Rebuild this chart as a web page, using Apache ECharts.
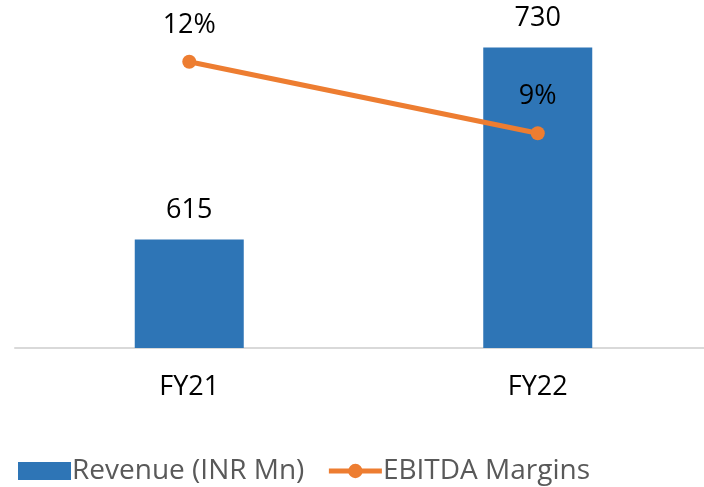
<!DOCTYPE html>
<html>
<head>
<meta charset="utf-8">
<script src="https://cdn.jsdelivr.net/npm/echarts@6/dist/echarts.min.js"></script>
<style>
  html, body { margin: 0; padding: 0; background: #fff; }
  #main { width: 704px; height: 487px; }
</style>
</head>
<body>
<div id="main"></div>
<script>
// chart data
var years = ['FY21', 'FY22']
    , revenue = [615, 730]
    , ebitdaMargin = [12, 9];

var font = '"Open Sans", "Liberation Sans", sans-serif';

var myChart = echarts.init(document.getElementById('main'));
var option = {
    animation: false,
    textStyle: { fontFamily: font },
    grid: { left: 15, right: -8, top: 14, bottom: 139, outerBoundsMode: 'none' },
    legend: {
        left: 13,
        top: 452,
        itemWidth: 53,
        itemHeight: 18,
        itemGap: 22,
        lineStyle: { width: 5 },
        textStyle: { fontSize: 28, color: '#595959', fontFamily: font, padding: [0, 0, 0, -4] },
        data: [
            { name: 'Revenue (INR Mn)', icon: 'rect' },
            { name: 'EBITDA Margins' }
        ]
    },
    xAxis: {
        type: 'category',
        data: years,
        axisLine: { lineStyle: { color: '#d9d9d9', width: 2 } },
        axisTick: { show: false },
        axisLabel: { fontSize: 27, color: '#000', margin: 26, fontFamily: font }
    },
    yAxis: [
        { type: 'value', min: 550, max: 750, show: false, splitLine: { show: false } },
        { type: 'value', min: 0, max: 14, show: false, splitLine: { show: false } }
    ],
    series: [
        {
            name: 'Revenue (INR Mn)',
            type: 'bar',
            data: revenue,
            barWidth: 109,
            itemStyle: { color: '#2E75B6' },
            label: {
                show: true, position: 'top', distance: 16,
                fontSize: 27, color: '#000', fontFamily: font
            }
        },
        {
            name: 'EBITDA Margins',
            type: 'line',
            yAxisIndex: 1,
            data: ebitdaMargin,
            symbol: 'circle',
            symbolSize: 14,
            lineStyle: { color: '#ED7D31', width: 5 },
            itemStyle: { color: '#ED7D31' },
            label: {
                show: true, position: 'top', distance: 16,
                fontSize: 27, color: '#000', fontFamily: font,
                formatter: function (p) { return p.value + '%'; }
            }
        }
    ]
};
myChart.setOption(option);
</script>
</body>
</html>
